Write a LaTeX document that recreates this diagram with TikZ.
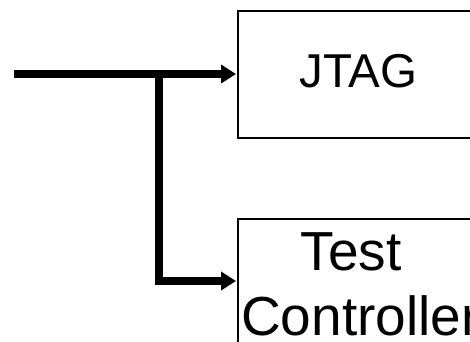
\documentclass[tikz,border=0pt]{standalone}
\usepackage{fontspec}
\setmainfont{Liberation Sans}
\usetikzlibrary{arrows.meta}
\tikzset{
  box/.style={draw=black, line width=2pt, rectangle, inner sep=0pt, anchor=north west},
  wire/.style={line width=8pt, line join=miter},
  arrowwire/.style={wire, -{Triangle[length=15pt,width=18pt]}},
  bigtxt/.style={inner sep=0pt, font=\fontsize{47.5}{54}\selectfont, anchor=base},
  tctxt/.style={inner sep=0pt, font=\fontsize{55}{60}\selectfont},
}
\begin{document}
\begin{tikzpicture}[x=1pt,y=-1pt]
\useasboundingbox (0,0) rectangle (470,341);
\clip (0,0) rectangle (470,341);
\fill[white] (0,0) rectangle (470,341);
\node[box, minimum width=300pt, minimum height=127pt] (jtag) at (237,10) {};
\node[box, minimum width=300pt, minimum height=200pt] (tc) at (237,218) {};
\node[bigtxt] (jtagtxt) at (358.5,87) {JTAG};
\node[tctxt, anchor=base] (testtxt) at (351,270) {Test};
\node[tctxt, anchor=base west] (ctrltxt) at (241,335) {Controller};
\coordinate (in) at (14,74);
\coordinate (split) at (159,74);
\coordinate (jin) at (236,74);
\coordinate (tin) at (236,281);
\draw[arrowwire] (in) -- (jin);
\draw[arrowwire] (split) |- (tin);
\end{tikzpicture}
\end{document}
